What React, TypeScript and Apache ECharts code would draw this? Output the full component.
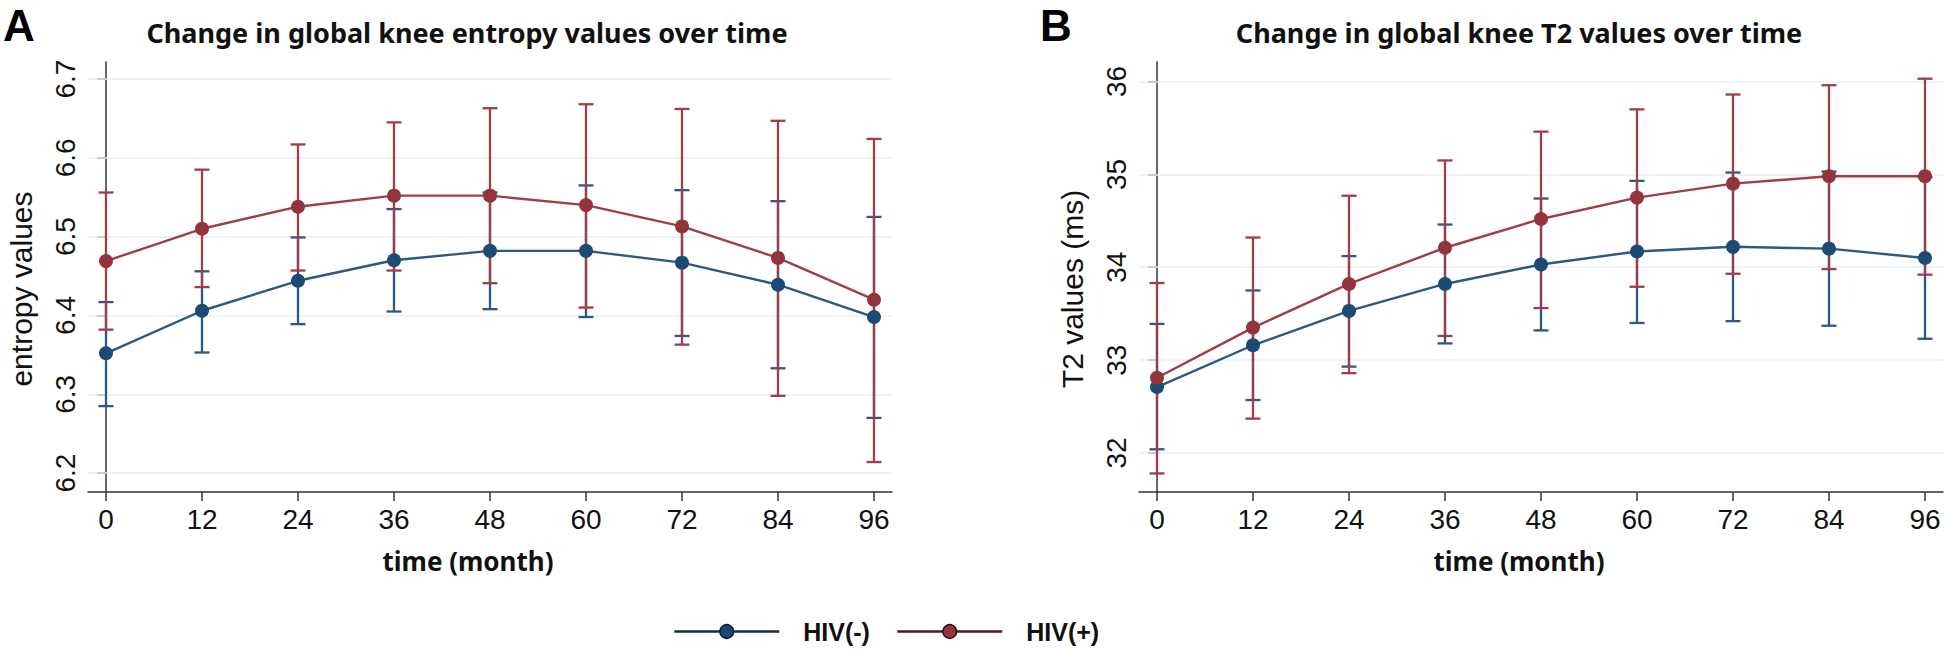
import React, { useEffect, useRef } from 'react';
import * as echarts from 'echarts';

const months = [0, 12, 24, 36, 48, 60, 72, 84, 96];

const entropyNeg = [6.352, 6.406, 6.444, 6.470, 6.482, 6.482, 6.467, 6.439, 6.398];
const entropyNegLo = [6.285, 6.353, 6.389, 6.405, 6.408, 6.398, 6.374, 6.333, 6.270];
const entropyNegHi = [6.417, 6.456, 6.499, 6.535, 6.556, 6.565, 6.559, 6.545, 6.525];
const entropyPos = [6.469, 6.510, 6.538, 6.552, 6.552, 6.540, 6.513, 6.473, 6.420];
const entropyPosLo = [6.382, 6.436, 6.457, 6.457, 6.441, 6.410, 6.363, 6.298, 6.214];
const entropyPosHi = [6.556, 6.585, 6.617, 6.645, 6.663, 6.668, 6.662, 6.647, 6.624];

const t2Neg = [32.71, 33.16, 33.53, 33.82, 34.03, 34.17, 34.22, 34.20, 34.10];
const t2NegLo = [32.04, 32.57, 32.93, 33.18, 33.32, 33.40, 33.42, 33.37, 33.23];
const t2NegHi = [33.39, 33.75, 34.12, 34.46, 34.74, 34.93, 35.02, 35.03, 34.97];
const t2Pos = [32.81, 33.35, 33.82, 34.21, 34.52, 34.75, 34.90, 34.98, 34.98];
const t2PosLo = [31.78, 32.37, 32.86, 33.26, 33.56, 33.79, 33.93, 33.98, 33.92];
const t2PosHi = [33.83, 34.32, 34.77, 35.15, 35.46, 35.70, 35.86, 35.96, 36.03];

const entropyTicks = [6.2, 6.3, 6.4, 6.5, 6.6, 6.7];
const t2Ticks = [32, 33, 34, 35, 36];

const titles = ['Change in global knee entropy values over time', 'Change in global knee T2 values over time'];
const yNames = ['entropy values', 'T2 values (ms)'];
const xName = 'time (month)';
const groups = ['HIV(-)', 'HIV(+)'];
const panelLabels = ['A', 'B'];

const blue = '#2c5884';
const blueMk = '#1d4975';
const red = '#9f3e46';
const redMk = '#93343c';
const numFont = '"Liberation Sans", Arial, sans-serif';
const narrowFont = '"Liberation Sans Narrow", "Arial Narrow", "Liberation Sans", Arial, sans-serif';
const textFont = '"Noto Sans", sans-serif';

function errSeries(name: string, idx: number, lo: number[], hi: number[], color: string, gridTicks?: number[]) {
  const s: any = {
    type: 'custom',
    name,
    xAxisIndex: idx,
    yAxisIndex: idx,
    z: 2,
    silent: true,
    data: months.map((m, i) => [m, lo[i], hi[i]]),
    encode: { x: 0, y: [1, 2] },
    renderItem: (params: any, api: any) => {
      const x = api.value(0);
      const pLo = api.coord([x, api.value(1)]);
      const pHi = api.coord([x, api.value(2)]);
      const hw = 7.5;
      const style = { stroke: color, lineWidth: 2.3, fill: 'none' };
      return {
        type: 'group',
        children: [
          { type: 'line', shape: { x1: pLo[0], y1: pHi[1], x2: pLo[0], y2: pLo[1] }, style },
          { type: 'line', shape: { x1: pLo[0] - hw, y1: pHi[1], x2: pLo[0] + hw, y2: pHi[1] }, style },
          { type: 'line', shape: { x1: pLo[0] - hw, y1: pLo[1], x2: pLo[0] + hw, y2: pLo[1] }, style },
        ],
      };
    },
  };
  if (gridTicks) {
    s.markLine = {
      silent: true,
      z: 1,
      symbol: ['none', 'none'],
      label: { show: false },
      lineStyle: { color: '#e9f0f2', width: 1.5, type: 'solid' },
      data: gridTicks.map((v) => ({ yAxis: v })),
    };
  }
  return s;
}

function lineSeries(name: string, idx: number, vals: number[], color: string, mk: string) {
  return {
    type: 'line',
    name,
    xAxisIndex: idx,
    yAxisIndex: idx,
    z: 3,
    data: months.map((m, i) => [m, vals[i]]),
    symbol: 'circle',
    symbolSize: 14,
    lineStyle: { color, width: 2.4 },
    itemStyle: { color: mk },
  };
}

export default function App() {
  const ref = useRef<HTMLDivElement>(null);
  useEffect(() => {
    const chart = echarts.init(ref.current!, undefined, { renderer: 'svg' });
    const xAxis = [0, 1].map((i) => ({
      type: 'value',
      gridIndex: i,
      min: -2.25,
      max: 98.25,
      name: xName,
      nameLocation: 'middle',
      nameGap: 56,
      nameTextStyle: { fontFamily: textFont, fontWeight: 'bold', fontSize: 26, color: '#111', padding: [0, 44, 0, 0] },
      axisLine: { show: true, lineStyle: { color: '#333', width: 1.5 } },
      axisTick: { show: true, customValues: months, length: 9, lineStyle: { color: '#333', width: 1.5 } },
      axisLabel: { customValues: months, fontFamily: numFont, fontSize: 28, color: '#111', margin: 13 },
      splitLine: { show: false },
    }));
    const yCfg = [
      { min: 6.176, max: 6.7216, ticks: entropyTicks, fmt: (v: number) => v.toFixed(1) },
      { min: 31.58, max: 36.21, ticks: t2Ticks, fmt: (v: number) => String(Math.round(v)) },
    ];
    const yAxis = yCfg.map((c, i) => ({
      type: 'value',
      gridIndex: i,
      min: c.min,
      max: c.max,
      name: yNames[i],
      nameLocation: 'middle',
      nameGap: 52,
      nameTextStyle: { fontFamily: numFont, fontSize: 30, color: '#111', padding: [0, 24, 0, 0] },
      axisLine: { show: true, lineStyle: { color: '#333', width: 1.5 } },
      axisTick: { show: true, customValues: c.ticks, length: 9, lineStyle: { color: '#333', width: 1.5 } },
      axisLabel: { customValues: c.ticks, rotate: 90, fontFamily: numFont, fontSize: 28, color: '#111', margin: 9, formatter: c.fmt },
      splitLine: { show: false },
    }));
    const legendBase = {
      itemWidth: 105,
      itemHeight: 17,
      top: 619,
      padding: 0,
      selectedMode: false,
      formatter: '{t|{name}}',
      textStyle: {
        color: '#111',
        rich: {
          t: { fontFamily: narrowFont, fontWeight: 'bold', fontSize: 25, lineHeight: 17, color: '#111', padding: [0, 0, 0, 19] },
        },
      },
    };
    chart.setOption({
      animation: false,
      backgroundColor: '#fff',
      grid: [
        { left: 88, top: 62, width: 804, height: 430 },
        { left: 1139, top: 62, width: 804, height: 430 },
      ],
      xAxis,
      yAxis,
      legend: [
        {
          ...legendBase,
          left: 673,
          data: [{ name: groups[0], itemStyle: { color: blueMk, borderColor: '#0c1f33', borderWidth: 1.5 }, lineStyle: { color: '#1b2b3b', width: 2.5 } }],
        },
        {
          ...legendBase,
          left: 896,
          data: [{ name: groups[1], itemStyle: { color: redMk, borderColor: '#3a0c10', borderWidth: 1.5 }, lineStyle: { color: '#4a1a1e', width: 2.5 } }],
        },
      ],
      graphic: [
        { type: 'text', x: 3, y: 25, style: { text: panelLabels[0], font: `bold 44px ${numFont}`, fill: '#000', textVerticalAlign: 'middle' } },
        { type: 'text', x: 1040, y: 25, style: { text: panelLabels[1], font: `bold 44px ${numFont}`, fill: '#000', textVerticalAlign: 'middle' } },
        { type: 'text', x: 467, y: 32, style: { text: titles[0], font: `bold 27px ${textFont}`, fill: '#111', textAlign: 'center', textVerticalAlign: 'middle' } },
        { type: 'text', x: 1519, y: 32, style: { text: titles[1], font: `bold 27px ${textFont}`, fill: '#111', textAlign: 'center', textVerticalAlign: 'middle' } },
      ],
      series: [
        errSeries('ci-neg-0', 0, entropyNegLo, entropyNegHi, blue, entropyTicks),
        errSeries('ci-pos-0', 0, entropyPosLo, entropyPosHi, red),
        lineSeries(groups[0], 0, entropyNeg, blue, blueMk),
        lineSeries(groups[1], 0, entropyPos, red, redMk),
        errSeries('ci-neg-1', 1, t2NegLo, t2NegHi, blue, t2Ticks),
        errSeries('ci-pos-1', 1, t2PosLo, t2PosHi, red),
        lineSeries(groups[0], 1, t2Neg, blue, blueMk),
        lineSeries(groups[1], 1, t2Pos, red, redMk),
      ],
    });
    return () => chart.dispose();
  }, []);
  return <div ref={ref} style={{ position: 'absolute', left: 0, top: 0, width: 1946, height: 650 }} />;
}
